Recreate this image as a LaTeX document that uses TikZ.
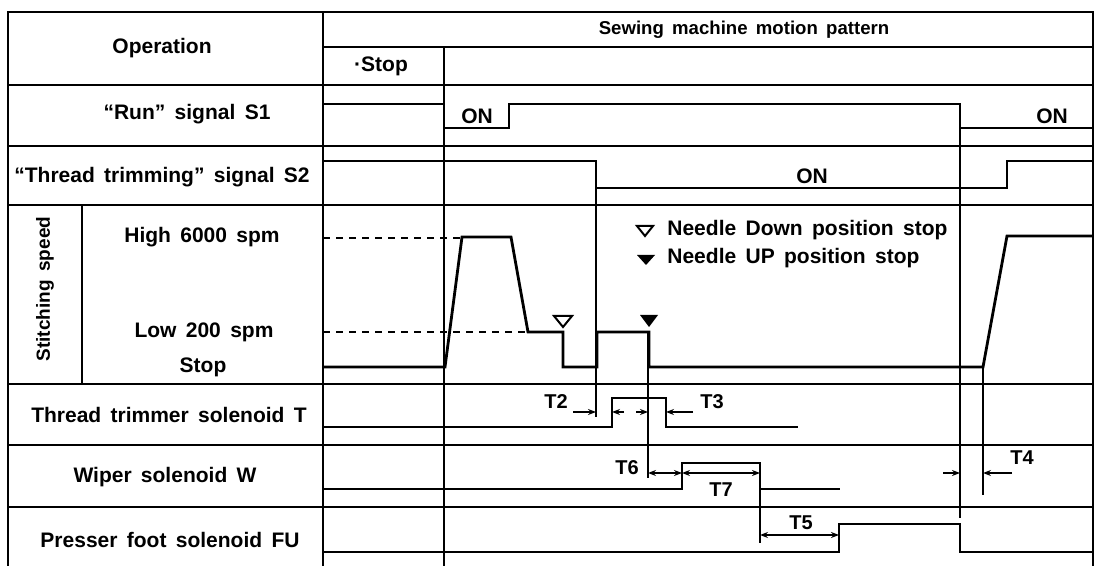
\documentclass[tikz,border=0pt]{standalone}
\usepackage{fontspec}
\setmainfont{Liberation Sans}[WordSpace=1.6]
\usetikzlibrary{arrows.meta}

\begin{document}
\begin{tikzpicture}[x=0.5pt, y=-0.5pt,
  frame/.style={line width=1pt},
  sig/.style={line width=1.4pt, line join=miter},
  refline/.style={line width=0.9pt},
  lvl/.style={line width=0.9pt, dash pattern=on 3.5pt off 3pt},
  dim/.style={line width=0.7pt, -{Stealth[length=4pt,width=3pt]}},
  dimb/.style={line width=0.7pt, {Stealth[length=4pt,width=3pt]}-{Stealth[length=4pt,width=3pt]}},
  lbl/.style={font=\bfseries\fontsize{10.5}{12}\selectfont, inner sep=0pt},
  tag/.style={font=\bfseries\fontsize{10}{12}\selectfont, inner sep=0pt}
]
\useasboundingbox (0,0) rectangle (1098,566);

% table
\draw[frame] (8,566) -- (8,12) -- (1093,12) -- (1093,566);
\draw[frame] (323,12) -- (323,566);
\draw[frame] (444,47) -- (444,566);
\draw[frame] (323,47) -- (1093,47);
\foreach \y in {85,146,205,384,445,507}
  \draw[frame] (8,\y) -- (1093,\y);
\draw[frame] (82,205) -- (82,384);

% row labels
\node[lbl] (op) at (162,48) {Operation};
\node[lbl, font=\bfseries\fontsize{9.3}{11}\selectfont] (head) at (744,30) {Sewing machine motion pattern};
\node[lbl] (stophd) at (381,66) {·Stop};
\node[lbl] (s1) at (187,114) {“Run” signal S1};
\node[lbl] (s2) at (162,177) {“Thread trimming” signal S2};
\node[lbl, rotate=90, font=\bfseries\fontsize{9.5}{11}\selectfont] (speed) at (45,289) {Stitching speed};
\node[lbl] (hi) at (202,237) {High 6000 spm};
\node[lbl] (lo) at (204,332) {Low 200 spm};
\node[lbl] (st) at (203,367) {Stop};
\node[lbl] (tsol) at (169,415) {Thread trimmer solenoid T};
\node[lbl] (wsol) at (165,477) {Wiper solenoid W};
\node[lbl] (fsol) at (170,540) {Presser foot solenoid FU};

% signals
\draw[sig] (323,104) -- (444,104) -- (444,128) -- (509,128) -- (509,104)
  -- (960,104) -- (960,128) -- (1093,128);
\draw[sig] (323,161) -- (596,161) -- (596,188) -- (1007,188) -- (1007,161) -- (1093,161);
\draw[sig] (323,367) -- (445,367) -- (462,237) -- (511,237) -- (528,332) -- (563,332)
  -- (563,367) -- (597,367) -- (597,332) -- (649,332) -- (649,367) -- (983,367)
  -- (1007,236) -- (1093,236);
\draw[sig] (323,427) -- (612,427) -- (612,398) -- (666,398) -- (666,427) -- (798,427);
\draw[sig] (323,489) -- (682,489) -- (682,463) -- (760,463) -- (760,489) -- (840,489);
\draw[sig] (323,552) -- (839,552) -- (839,524) -- (960,524) -- (960,552) -- (1093,552);

\node[lbl] (on1) at (477,116) {ON};
\node[lbl] (on2) at (812,176) {ON};
\node[lbl] (on3) at (1052,116) {ON};

% speed levels
\draw[lvl] (323,238) -- (462,238);
\draw[lvl] (323,332) -- (528,332);

% timing lines
\draw[refline] (596,188) -- (596,417);
\draw[refline] (648,332) -- (648,478);
\draw[refline] (960,128) -- (960,518);
\draw[refline] (983,367) -- (983,495);
\draw[refline] (760,489) -- (760,543);

% needle marks
\draw[line width=1pt] (554,316) -- (572,316) -- (563,327) -- cycle;
\fill (640,315) -- (658,315) -- (649,327) -- cycle;
\draw[line width=1pt] (637,226) -- (653,226) -- (645,236) -- cycle;
\fill (637,255) -- (655,255) -- (646,265) -- cycle;
\node[lbl, anchor=west] (leg1) at (667,230) {Needle Down position stop};
\node[lbl, anchor=west] (leg2) at (667,258) {Needle UP position stop};

% delays
\draw[dim] (573,412) -- (596,412);
\draw[dim] (624,412) -- (612,412);
\draw[dim] (636,412) -- (648,412);
\draw[dim] (693,412) -- (666,412);
\draw[dimb] (648,473) -- (682,473);
\draw[dimb] (682,473) -- (760,473);
\draw[dimb] (760,535) -- (839,535);
\draw[dim] (943,473) -- (960,473);
\draw[dim] (1012,473) -- (983,473);

\node[tag] (t2) at (556,402) {T2};
\node[tag] (t3) at (712,402) {T3};
\node[tag] (t6) at (627,468) {T6};
\node[tag] (t7) at (721,490) {T7};
\node[tag] (t5) at (801,523) {T5};
\node[tag] (t4) at (1022,458) {T4};
\end{tikzpicture}
\end{document}
